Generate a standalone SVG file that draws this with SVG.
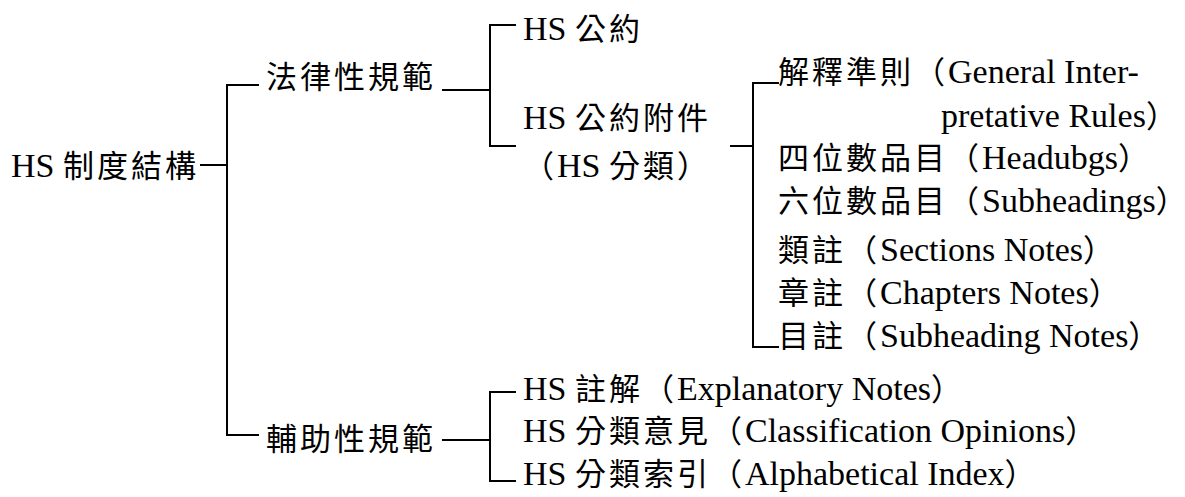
<svg xmlns="http://www.w3.org/2000/svg" width="1185" height="497" viewBox="0 0 1185 497">
<style>
text{font-family:"Liberation Serif","Noto Sans CJK TC",serif;font-size:34px;fill:#000}
.l{font-family:"Liberation Serif",serif;font-size:34px}
.k{font-family:"Noto Sans CJK TC","Noto Sans CJK SC",sans-serif;font-size:31px;letter-spacing:3px}
.p{font-family:"Noto Sans CJK TC","Noto Sans CJK SC",sans-serif;font-size:31px}
.c{fill:none;stroke:#000;stroke-width:2;stroke-linecap:square}
</style>
<rect width="1185" height="497" fill="#fff"/>
<g id="connectors" class="c">
<path d="M201,165H227M227,85V435M227,85H258M227,435H258"/>
<path d="M443,90H490M490,25V146M490,25H515M490,146H515"/>
<path d="M731,146H753M753,83V347M753,83H778M753,347H778"/>
<path d="M443,440H490M490,392V481M490,392H515M490,481H515"/>
</g>
<g id="root"><text x="11" y="177"><tspan class="l">HS </tspan><tspan class="k">制度結構</tspan></text></g>
<g id="legal"><text x="266" y="88"><tspan class="k">法律性規範</tspan></text></g>
<g id="aux"><text x="266" y="450"><tspan class="k">輔助性規範</tspan></text></g>
<g id="hs-convention"><text x="523" y="40"><tspan class="l">HS </tspan><tspan class="k">公約</tspan></text></g>
<g id="hs-annex"><text x="523" y="129"><tspan class="l">HS </tspan><tspan class="k">公約附件</tspan></text><text x="523" y="177"><tspan class="k">（</tspan><tspan class="l">HS </tspan><tspan class="k">分類</tspan><tspan class="p">）</tspan></text></g>
<g id="gir"><text x="778" y="83"><tspan class="k">解釋準則（</tspan><tspan class="l">General Inter-</tspan></text><text x="941" y="127"><tspan class="l">pretative Rules</tspan><tspan class="p">）</tspan></text></g>
<g id="headings"><text x="778" y="169"><tspan class="k">四位數品目（</tspan><tspan class="l">Headubgs</tspan><tspan class="p">）</tspan></text></g>
<g id="subheadings"><text x="778" y="212"><tspan class="k">六位數品目（</tspan><tspan class="l">Subheadings</tspan><tspan class="p">）</tspan></text></g>
<g id="section-notes"><text x="778" y="261"><tspan class="k">類註（</tspan><tspan class="l">Sections Notes</tspan><tspan class="p">）</tspan></text></g>
<g id="chapter-notes"><text x="778" y="304"><tspan class="k">章註（</tspan><tspan class="l">Chapters Notes</tspan><tspan class="p">）</tspan></text></g>
<g id="subheading-notes"><text x="778" y="347"><tspan class="k">目註（</tspan><tspan class="l">Subheading Notes</tspan><tspan class="p">）</tspan></text></g>
<g id="explanatory"><text x="523" y="400"><tspan class="l">HS </tspan><tspan class="k">註解（</tspan><tspan class="l">Explanatory Notes</tspan><tspan class="p">）</tspan></text></g>
<g id="opinions"><text x="523" y="442"><tspan class="l">HS </tspan><tspan class="k">分類意見（</tspan><tspan class="l">Classification Opinions</tspan><tspan class="p">）</tspan></text></g>
<g id="index"><text x="523" y="485"><tspan class="l">HS </tspan><tspan class="k">分類索引（</tspan><tspan class="l">Alphabetical Index</tspan><tspan class="p">）</tspan></text></g>
</svg>
